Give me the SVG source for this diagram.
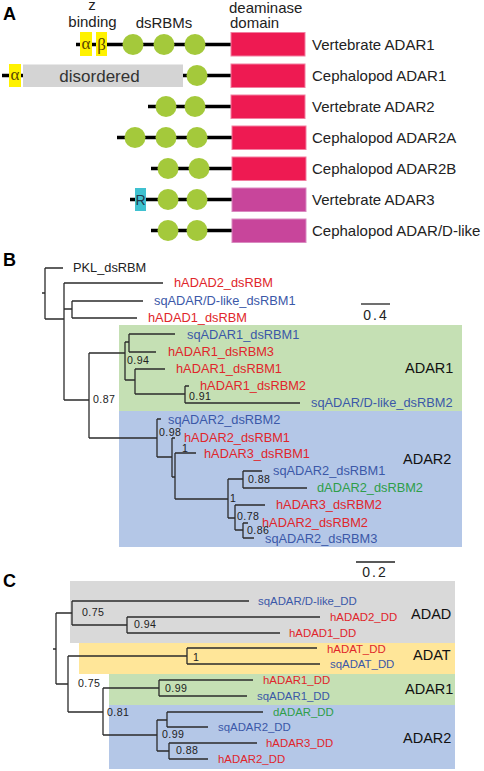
<svg xmlns="http://www.w3.org/2000/svg" width="484" height="771" viewBox="0 0 484 771">
<style>
.pl{font-family:"Liberation Sans",Arial,sans-serif;font-weight:bold;font-size:18px;fill:#000}
.hd{font-family:"Liberation Sans",Arial,sans-serif;font-size:15px;fill:#222}
.nm{font-family:"Liberation Sans",Arial,sans-serif;font-size:15px;fill:#222}
.bb{fill:none;stroke:#000;stroke-width:3.5}
.dbox{fill:#EE1A52;stroke:#F27FA0;stroke-width:1}
.mbox{fill:#C8459B;stroke:#D98AC0;stroke-width:1}
.rbm{fill:#A4C93B}
.zb{fill:#FFF200}
.gr{font-family:"Liberation Serif","Times New Roman",serif;font-size:17px;fill:#5a4800}
.br{fill:none;stroke:#2b2b2b;stroke-width:1.3}
.lb{font-family:"Liberation Sans",Arial,sans-serif;font-size:12.8px}
.lc{font-family:"Liberation Sans",Arial,sans-serif;font-size:11.4px}
.bs{font-family:"Liberation Sans",Arial,sans-serif;font-size:10.6px;letter-spacing:0.4px;fill:#222}
.cl{font-family:"Liberation Sans",Arial,sans-serif;font-size:14.5px;fill:#111}
.sc{font-family:"Liberation Sans",Arial,sans-serif;font-size:14px;letter-spacing:2px;fill:#222}
.r{fill:#E0262B}.b{fill:#3B58A8}.g{fill:#2E9E49}.k{fill:#222}
</style>

<!-- Panel A -->
<g id="panelA">
<text class="pl" x="3" y="20">A</text>
<g id="headers">
<text class="hd" x="92" y="10" text-anchor="middle">z</text>
<text class="hd" x="92.5" y="27" text-anchor="middle">binding</text>
<text class="hd" x="164" y="28" text-anchor="middle">dsRBMs</text>
<text class="hd" x="229" y="13">deaminase</text>
<text class="hd" x="230" y="28">domain</text>
</g>
<g id="vertADAR1">
<line class="bb" x1="76" y1="44.5" x2="232" y2="44.5"/>
<rect class="zb" x="80" y="32" width="12" height="24"/>
<text class="gr" x="86" y="49" text-anchor="middle">α</text>
<rect class="zb" x="96" y="32" width="11" height="24"/>
<text class="gr" x="101.5" y="50" text-anchor="middle">β</text>
<circle class="rbm" cx="133" cy="44.5" r="10.5"/>
<circle class="rbm" cx="164" cy="44.5" r="10.5"/>
<circle class="rbm" cx="195" cy="44.5" r="10.5"/>
<rect class="dbox" x="231" y="32.5" width="74" height="23.5"/>
<text class="nm" x="312" y="50">Vertebrate ADAR1</text>
</g>
<g id="cephADAR1">
<line class="bb" x1="2" y1="75.5" x2="232" y2="75.5"/>
<rect class="zb" x="9" y="64" width="12" height="23"/>
<text class="gr" x="15" y="80" text-anchor="middle">α</text>
<rect x="23" y="64.5" width="160" height="22.5" fill="#D4D4D4"/>
<text x="99.5" y="82" text-anchor="middle" font-family="'Liberation Sans',Arial,sans-serif" font-size="17" fill="#333">disordered</text>
<circle class="rbm" cx="197" cy="75.5" r="10.5"/>
<rect class="dbox" x="231" y="64" width="74" height="23.5"/>
<text class="nm" x="312" y="81">Cephalopod ADAR1</text>
</g>
<g id="vertADAR2">
<line class="bb" x1="148" y1="106.5" x2="232" y2="106.5"/>
<circle class="rbm" cx="166" cy="106.5" r="10.5"/>
<circle class="rbm" cx="195" cy="106.5" r="10.5"/>
<rect class="dbox" x="231" y="95" width="74" height="23.5"/>
<text class="nm" x="312" y="112">Vertebrate ADAR2</text>
</g>
<g id="cephADAR2A">
<line class="bb" x1="117" y1="137.5" x2="232" y2="137.5"/>
<circle class="rbm" cx="135" cy="137.5" r="10.5"/>
<circle class="rbm" cx="166" cy="137.5" r="10.5"/>
<circle class="rbm" cx="197" cy="137.5" r="10.5"/>
<rect class="dbox" x="232" y="126" width="74" height="23.5"/>
<text class="nm" x="312" y="143">Cephalopod ADAR2A</text>
</g>
<g id="cephADAR2B">
<line class="bb" x1="151" y1="168.5" x2="232" y2="168.5"/>
<circle class="rbm" cx="168" cy="168.5" r="10.5"/>
<circle class="rbm" cx="199" cy="168.5" r="10.5"/>
<rect class="dbox" x="232" y="157" width="74" height="23.5"/>
<text class="nm" x="312" y="174">Cephalopod ADAR2B</text>
</g>
<g id="vertADAR3">
<line class="bb" x1="130" y1="199.5" x2="232" y2="199.5"/>
<rect x="135" y="188" width="11" height="23" fill="#3FC1D0"/>
<text x="140.5" y="205" text-anchor="middle" font-family="'Liberation Sans',Arial,sans-serif" font-size="14" fill="#1f3b4d">R</text>
<circle class="rbm" cx="168" cy="199.5" r="10.5"/>
<circle class="rbm" cx="197" cy="199.5" r="10.5"/>
<rect class="mbox" x="232" y="188" width="74" height="23.5"/>
<text class="nm" x="312" y="205">Vertebrate ADAR3</text>
</g>
<g id="cephADARDlike">
<line class="bb" x1="151" y1="230.5" x2="232" y2="230.5"/>
<circle class="rbm" cx="168" cy="230.5" r="10.5"/>
<circle class="rbm" cx="197" cy="230.5" r="10.5"/>
<rect class="mbox" x="232" y="219" width="74" height="23.5"/>
<text class="nm" x="312" y="236">Cephalopod ADAR/D-like</text>
</g>
</g>

<!-- Panel B -->
<g id="panelB">
<text class="pl" x="3" y="266">B</text>
<g id="cladeB_ADAR1"><rect x="119" y="325" width="343" height="86" fill="#C5E0B4"/><text class="cl" x="405" y="373">ADAR1</text></g>
<g id="cladeB_ADAR2"><rect x="119" y="411" width="343" height="136" fill="#B4C7E7"/><text class="cl" x="403" y="464">ADAR2</text></g>
<g id="scaleB"><line x1="361" y1="304" x2="390" y2="304" stroke="#222" stroke-width="1.3"/><text class="sc" x="376" y="320" text-anchor="middle">0.4</text></g>
<g id="connectorsB">
<path class="br" d="M42 293H45M45 268V319M45 268H63M45 319H64M64 283V400M64 283H163M64 309H72M72 301V318M72 301H143M72 318H137M64 400H89M89 353V438M89 353H125M125 342V380M125 342H129M129 334V352M129 334H175M129 352H156M125 380H135M135 369V394M135 369H165M135 394H185M185 386V403M185 386H189M185 403H300M89 438H157M157 419V457M157 419H161M157 457H172M172 438V477M172 438H175M172 477H175M175 453V499M175 453H196M175 499H228M228 479V518M228 479H243M243 471V488M243 471H262M243 488H307M228 518H235M235 505V530M235 505H265M235 530H243M243 523V538M243 523H248M243 538H254"/>
</g>
<g id="leavesB" class="lb">
<text class="k" x="73" y="272">PKL_dsRBM</text>
<text class="r" x="174" y="287">hADAD2_dsRBM</text>
<text class="b" x="154" y="305">sqADAR/D-like_dsRBM1</text>
<text class="r" x="148" y="322">hADAD1_dsRBM</text>
<text class="b" x="187" y="339">sqADAR1_dsRBM1</text>
<text class="r" x="168" y="356">hADAR1_dsRBM3</text>
<text class="r" x="176" y="373">hADAR1_dsRBM1</text>
<text class="r" x="200" y="389.5">hADAR1_dsRBM2</text>
<text class="b" x="311" y="407">sqADAR/D-like_dsRBM2</text>
<text class="b" x="168" y="424">sqADAR2_dsRBM2</text>
<text class="r" x="184" y="441.5">hADAR2_dsRBM1</text>
<text class="r" x="204" y="458">hADAR3_dsRBM1</text>
<text class="b" x="273" y="475">sqADAR2_dsRBM1</text>
<text class="g" x="317" y="492">dADAR2_dsRBM2</text>
<text class="r" x="276" y="509">hADAR3_dsRBM2</text>
<text class="r" x="262" y="526.5">hADAR2_dsRBM2</text>
<text class="b" x="265" y="543">sqADAR2_dsRBM3</text>
</g>
<g id="supportB">
<text class="bs" x="127" y="364">0.94</text>
<text class="bs" x="189" y="400">0.91</text>
<text class="bs" x="93" y="403">0.87</text>
<text class="bs" x="159" y="435.5">0.98</text>
<text class="bs" x="182" y="452">1</text>
<text class="bs" x="248" y="483">0.88</text>
<text class="bs" x="230" y="502">1</text>
<text class="bs" x="237" y="520">0.78</text>
<text class="bs" x="247" y="534">0.86</text>
</g>
</g>

<!-- Panel C -->
<g id="panelC">
<text class="pl" x="3" y="587">C</text>
<g id="cladeC_ADAD"><rect x="70" y="581" width="385" height="62" fill="#D9D9D9"/><text class="cl" x="411" y="619">ADAD</text></g>
<g id="cladeC_ADAT"><rect x="79" y="643" width="376" height="31" fill="#FFE699"/><text class="cl" x="413" y="660">ADAT</text></g>
<g id="cladeC_ADAR1"><rect x="109" y="674" width="346" height="31" fill="#C5E0B4"/><text class="cl" x="405" y="694">ADAR1</text></g>
<g id="cladeC_ADAR2"><rect x="109" y="705" width="346" height="64" fill="#B4C7E7"/><text class="cl" x="403" y="743">ADAR2</text></g>
<g id="scaleC"><line x1="356" y1="562" x2="395" y2="562" stroke="#222" stroke-width="1.3"/><text class="sc" x="375" y="577" text-anchor="middle">0.2</text></g>
<g id="connectorsC">
<path class="br" d="M53 649H56M56 613V684M56 613H72M72 601V625M72 601H249M72 625H127M127 617V633M127 617H320M127 633H280M56 684H68M68 656V712M68 656H187M187 648V664M187 648H317M187 664H320M68 712H103M103 688V735M103 688H159M159 680V696M159 680H253M159 696H247M103 735H157M157 720V751M157 720H167M167 712V727M167 712H263M167 727H208M157 751H169M169 743V759M169 743H257M169 759H208"/>
</g>
<g id="leavesC" class="lc">
<text class="b" x="258" y="605">sqADAR/D-like_DD</text>
<text class="r" x="330" y="621">hADAD2_DD</text>
<text class="r" x="289" y="637">hADAD1_DD</text>
<text class="r" x="327" y="653">hADAT_DD</text>
<text class="b" x="330" y="668">sqADAT_DD</text>
<text class="r" x="263" y="684">hADAR1_DD</text>
<text class="b" x="257" y="700">sqADAR1_DD</text>
<text class="g" x="273" y="716">dADAR_DD</text>
<text class="b" x="218" y="731">sqADAR2_DD</text>
<text class="r" x="266" y="747">hADAR3_DD</text>
<text class="r" x="218" y="763">hADAR2_DD</text>
</g>
<g id="supportC">
<text class="bs" x="82" y="616">0.75</text>
<text class="bs" x="134" y="628">0.94</text>
<text class="bs" x="193" y="661">1</text>
<text class="bs" x="78" y="687">0.75</text>
<text class="bs" x="165" y="692">0.99</text>
<text class="bs" x="107" y="716">0.81</text>
<text class="bs" x="162" y="738">0.99</text>
<text class="bs" x="176" y="754">0.88</text>
</g>
</g>
</svg>
